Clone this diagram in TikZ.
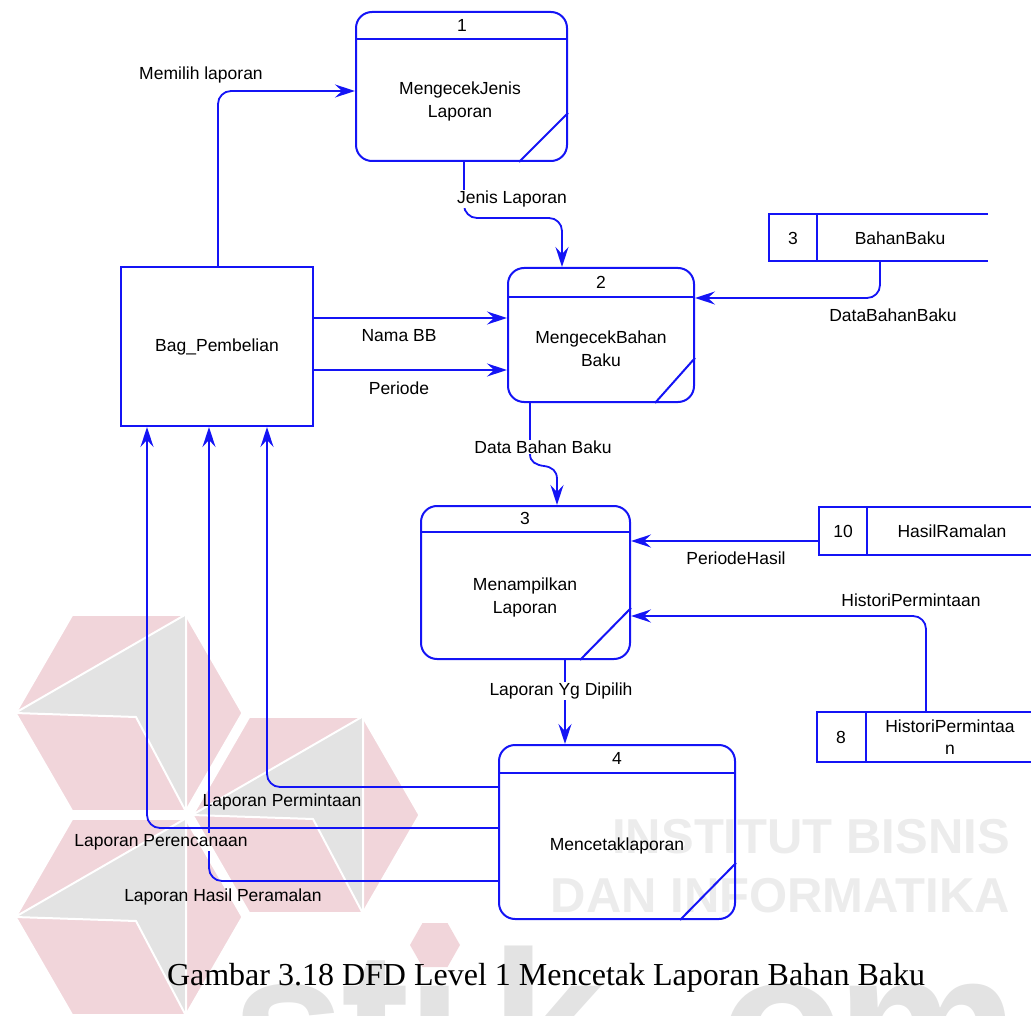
\documentclass[tikz,border=0pt]{standalone}
\usepackage{fontspec}
\setmainfont{Liberation Sans}
\newfontfamily\captionfont{Liberation Serif}
\usetikzlibrary{arrows.meta}

\definecolor{dfdblue}{RGB}{20,20,245}
\definecolor{logopink}{RGB}{241,213,218}
\definecolor{logogray}{RGB}{227,227,227}
\definecolor{marktext}{RGB}{236,236,236}

% one petal of the background emblem: pink hexagon with a grey blade
\newcommand\emblempetal[2]{%
  \fill[logopink, draw=white, line width=3pt]
    (#1+114,#2) -- (#1+57,#2-98.7) -- (#1-57,#2-98.7) -- (#1-114,#2)
    -- (#1-57,#2+98.7) -- (#1+57,#2+98.7) -- cycle;
  \fill[logogray, draw=white, line width=2pt]
    (#1+57,#2-98.7) -- (#1-114,#2) -- (#1+7,#2+4) -- (#1+57,#2+98.7) -- cycle;
}

\begin{document}
\begin{tikzpicture}[x=1pt, y=-1pt,
  proc/.style={draw=dfdblue, line width=2pt, rounded corners=16pt, inner sep=0pt},
  entity/.style={draw=dfdblue, line width=2pt, inner sep=0pt,
                 font=\fontsize{17.5}{23}\selectfont},
  storeframe/.style={draw=dfdblue, line width=2pt},
  partline/.style={draw=dfdblue, line width=2pt},
  dflow/.style={draw=dfdblue, line width=1.8pt, rounded corners=13pt,
                -{Stealth[length=20pt,width=13pt,inset=7pt]}},
  wire/.style={draw=dfdblue, line width=1.8pt, rounded corners=13pt},
  lbl/.style={font=\fontsize{17.5}{23}\selectfont, inner sep=1pt, align=center},
  lblw/.style={lbl, fill=white},
  bigletter/.style={anchor=base, inner sep=0pt, text=logogray,
                    font=\fontsize{205}{205}\selectfont\bfseries},
  marklabel/.style={anchor=base east, inner sep=0pt, text=marktext,
                    font=\fontsize{49}{49}\selectfont\bfseries},
]
\useasboundingbox (0,0) rectangle (1031,1016);

% ---------------- background emblem and lettering ----------------
\begin{scope}
  \clip (0,0) rectangle (1031,1016);
  \emblempetal{129}{713}
  \emblempetal{306}{815}
  \emblempetal{129}{917}
  \node[marklabel] at (1010,853) {INSTITUT BISNIS};
  \node[marklabel] at (1010,912) {DAN INFORMATIKA};
  \node[bigletter] at (289,1094) {s};
  \node[bigletter] at (376,1094) {t};
  \node[bigletter] at (435,1094) {ı};
  \node[bigletter] at (548,1094) {k};
  \node[bigletter] at (782,1094) {o};
  \node[bigletter] at (928,1094) {m};
  \fill[logopink] (460,945) -- (447.5,923) -- (422.5,923) -- (410,945)
    -- (422.5,967) -- (447.5,967) -- cycle;
\end{scope}

% ---------------- external entity ----------------
\node[entity, minimum width=192pt, minimum height=159pt] (bag) at (217,346.5) {Bag\_Pembelian};

% ---------------- processes ----------------
\node[proc, minimum width=211pt, minimum height=149pt] (p1) at (461.5,86.5) {};
\draw[partline] (p1.west |- 0,39) -- (p1.east |- 0,39);
\draw[partline] (p1.east |- 0,113) -- (p1.south -| 519,0);
\node[lbl] (p1n) at (462,25) {1};
\node[lbl] (p1t) at (460,101) {MengecekJenis\\Laporan};

\node[proc, minimum width=186pt, minimum height=134pt] (p2) at (601,335) {};
\draw[partline] (p2.west |- 0,297) -- (p2.east |- 0,297);
\draw[partline] (p2.east |- 0,358) -- (p2.south -| 655,0);
\node[lbl] (p2n) at (601,282) {2};
\node[lbl] (p2t) at (601,349) {MengecekBahan\\Baku};

\node[proc, minimum width=209pt, minimum height=153pt] (p3) at (525.5,582.5) {};
\draw[partline] (p3.west |- 0,532) -- (p3.east |- 0,532);
\draw[partline] (p3.east |- 0,608) -- (p3.south -| 580,0);
\node[lbl] (p3n) at (525,518) {3};
\node[lbl] (p3t) at (525,597) {Menampilkan\\Laporan};

\node[proc, minimum width=236pt, minimum height=174pt] (p4) at (617,832) {};
\draw[partline] (p4.west |- 0,773) -- (p4.east |- 0,773);
\draw[partline] (p4.east |- 0,863) -- (p4.south -| 680,0);
\node[lbl] (p4n) at (617,758) {4};
\node[lbl] (p4t) at (617,846) {Mencetaklaporan};

% ---------------- data stores (open on the right) ----------------
\node[inner sep=0pt, minimum width=219pt, minimum height=47pt] (s3) at (878.5,237.5) {};
\draw[storeframe] (s3.north east) -- (s3.north west) -- (s3.south west) -- (s3.south east);
\draw[storeframe] (s3.north west -| 817,0) -- (s3.south west -| 817,0);
\node[lbl] (s3n) at (793,238) {3};
\node[lbl] (s3t) at (900,238) {BahanBaku};

\node[inner sep=0pt, minimum width=216pt, minimum height=48pt] (s10) at (927,531) {};
\draw[storeframe] (s10.north east) -- (s10.north west) -- (s10.south west) -- (s10.south east);
\draw[storeframe] (s10.north west -| 867,0) -- (s10.south west -| 867,0);
\node[lbl] (s10n) at (843,531) {10};
\node[lbl] (s10t) at (952,531) {HasilRamalan};

\node[inner sep=0pt, minimum width=218pt, minimum height=50pt] (s8) at (926,737) {};
\draw[storeframe] (s8.north east) -- (s8.north west) -- (s8.south west) -- (s8.south east);
\draw[storeframe] (s8.north west -| 866,0) -- (s8.south west -| 866,0);
\node[lbl] (s8n) at (841,737) {8};
\node[lbl, font=\fontsize{17.5}{22}\selectfont] (s8t) at (950,737) {HistoriPermintaa\\n};

% ---------------- data flows ----------------
% Bag_Pembelian -> 1
\draw[dflow] (bag.north -| 218,0) -- (218,91) -- (p1.west |- 0,91);
\node[lbl] (fmemilih) at (201,75) {Memilih laporan};

% 1 -> 2
\draw[dflow] (p1.south -| 464,0) -- (464,218) -- (562,218) -- (p2.north -| 562,0);
\node[lblw] (fjenis) at (512,199) {Jenis Laporan};

% Bag_Pembelian -> 2
\draw[dflow] (bag.east |- 0,318) -- (p2.west |- 0,318);
\node[lbl] (fnama) at (399,336) {Nama BB};
\draw[dflow] (bag.east |- 0,370) -- (p2.west |- 0,370);
\node[lbl] (fperiode) at (399,388) {Periode};

% BahanBaku -> 2
\draw[dflow] (s3.south -| 880,0) -- (880,298) -- (p2.east |- 0,298);
\node[lbl] (fdbb) at (893,315) {DataBahanBaku};

% 2 -> 3 (S-bend below the label)
\draw[dflow, sharp corners] (p2.south -| 530,0) -- (530,454)
  .. controls (530,462) and (536,465) .. (544,466)
  .. controls (552,467) and (557,471) .. (557,479)
  -- (p3.north -| 557,0);
\node[lblw] (fdata) at (543,447) {Data Bahan Baku};

% HasilRamalan -> 3
\draw[dflow] (s10.west |- 0,541) -- (p3.east |- 0,541);
\node[lbl] (fph) at (736,558) {PeriodeHasil};

% HistoriPermintaan -> 3
\draw[dflow] (s8.north -| 926,0) -- (926,616) -- (p3.east |- 0,616);
\node[lbl] (fhp) at (911,600) {HistoriPermintaan};

% 3 -> 4
\draw[dflow] (p3.south -| 565,0) -- (p4.north -| 565,0);
\node[lblw] (fyg) at (561,691) {Laporan Yg Dipilih};

% 4 -> Bag_Pembelian
\node[lbl] (flperm) at (282,802) {Laporan Permintaan};
\node[lbl] (flrenc) at (161,842) {Laporan Perencanaan};
\node[lbl] (flhasil) at (223,897) {Laporan Hasil Peramalan};
\draw[dflow] (p4.west |- 0,787) -- (267,787) -- (bag.south -| 267,0);
\draw[dflow] (p4.west |- 0,828) -- (147,828) -- (bag.south -| 147,0);
\draw[wire] (p4.west |- 0,881) -- (209,881) -- (flrenc.south -| 209,0);
\draw[dflow] (flrenc.north -| 209,0) -- (bag.south -| 209,0);

% ---------------- caption ----------------
\node[anchor=base, inner sep=0pt, font=\captionfont\fontsize{32}{32}\selectfont] (caption)
  at (546,985) {Gambar 3.18 DFD Level 1 Mencetak Laporan Bahan Baku};
\end{tikzpicture}
\end{document}
